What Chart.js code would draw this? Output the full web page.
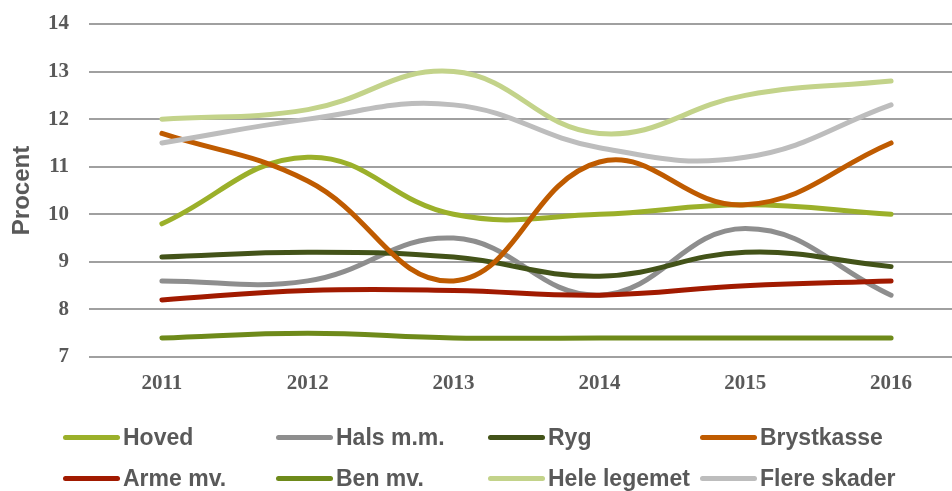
<!DOCTYPE html>
<html>
<head>
<meta charset="utf-8">
<script src="https://cdn.jsdelivr.net/npm/chart.js@4/dist/chart.umd.min.js"></script>
<style>
  html, body { margin: 0; padding: 0; background: #ffffff; overflow: hidden; width: 952px; height: 491px; }
  #wrap { position: relative; width: 952px; height: 491px; overflow: hidden; }
  canvas { position: absolute; left: 0; top: 0; }
  #legend { position: absolute; left: 0; top: 0; width: 952px; height: 491px; pointer-events: none; }
  .item { position: absolute; display: flex; align-items: center; font-family: "Liberation Sans", Arial, sans-serif; font-weight: bold; font-size: 23px; color: #595959; white-space: nowrap; }
  .sw { width: 57px; height: 5px; border-radius: 3px; margin-right: 3px; }
</style>
</head>
<body>
<div id="wrap">
  <canvas id="c" width="964" height="491"></canvas>
  <div id="legend"></div>
</div>
<script>
const years = ['2011', '2012', '2013', '2014', '2015', '2016'];
const seriesNames = ['Hoved', 'Hals m.m.', 'Ryg', 'Brystkasse', 'Arme mv.', 'Ben mv.', 'Hele legemet', 'Flere skader'];
const hoved       = [9.8, 11.2, 10.0, 10.0, 10.2, 10.0];
const halsMm      = [8.6, 8.6, 9.5, 8.3, 9.7, 8.3];
const ryg         = [9.1, 9.2, 9.1, 8.7, 9.2, 8.9];
const brystkasse  = [11.7, 10.7, 8.6, 11.1, 10.2, 11.5];
const armeMv      = [8.2, 8.4, 8.4, 8.3, 8.5, 8.6];
const benMv       = [7.4, 7.5, 7.4, 7.4, 7.4, 7.4];
const heleLegemet = [12.0, 12.2, 13.0, 11.7, 12.5, 12.8];
const flereSkader = [11.5, 12.0, 12.3, 11.4, 11.2, 12.3];
const yTicks = [7, 8, 9, 10, 11, 12, 13, 14];

const seriesValues = [hoved, halsMm, ryg, brystkasse, armeMv, benMv, heleLegemet, flereSkader];
const colors = ['#9BB02A', '#8E8E8E', '#435319', '#BF5B00', '#A11A00', '#6E8A1A', '#C3D38A', '#BDBDBD'];

const datasets = seriesNames.map((name, i) => ({
  label: name,
  data: seriesValues[i],
  borderColor: colors[i],
  backgroundColor: colors[i],
  borderWidth: 5,
  borderCapStyle: 'round',
  borderJoinStyle: 'round',
  pointRadius: 0,
  pointHoverRadius: 0,
  tension: 0.42,
  fill: false,
  clip: false,
  order: -i
}));

new Chart(document.getElementById('c'), {
  type: 'line',
  data: { labels: years, datasets },
  options: {
    responsive: false,
    animation: false,
    events: [],
    layout: { padding: { top: 24, right: 0, bottom: 0, left: 0 } },
    plugins: { legend: { display: false }, tooltip: { enabled: false } },
    scales: {
      x: {
        offset: true,
        grid: { display: false, drawTicks: false },
        border: { display: false },
        ticks: {
          padding: 14,
          color: '#595959',
          font: { family: '"Liberation Serif", "Times New Roman", serif', weight: 'bold', size: 21 }
        },
        afterFit: (axis) => { axis.height = 134; axis.paddingLeft = 0; axis.paddingRight = 0; }
      },
      y: {
        min: 7,
        max: 14,
        afterBuildTicks: (axis) => { axis.ticks = yTicks.map(v => ({ value: v })); },
        grid: { color: '#A0A0A0', lineWidth: 2, drawTicks: false },
        border: { display: false },
        ticks: {
          padding: 20,
          color: '#595959',
          font: { family: '"Liberation Serif", "Times New Roman", serif', weight: 'bold', size: 21 }
        },
        title: {
          display: true,
          text: 'Procent',
          color: '#595959',
          padding: { top: 8, bottom: 0 },
          font: { family: '"Liberation Sans", Arial, sans-serif', weight: 'bold', size: 24 }
        },
        afterFit: (axis) => { axis.width = 89; axis.paddingTop = 0; axis.paddingBottom = 0; }
      }
    }
  }
});

// HTML legend built from the datasets
const legend = document.getElementById('legend');
const colX = [63, 276, 488, 700];
const rowY = [437, 478];
seriesNames.forEach((name, i) => {
  const el = document.createElement('div');
  el.className = 'item';
  el.style.left = colX[i % 4] + 'px';
  el.style.top = (rowY[Math.floor(i / 4)] - 14) + 'px';
  el.style.height = '28px';
  const sw = document.createElement('span');
  sw.className = 'sw';
  sw.style.background = colors[i];
  const tx = document.createElement('span');
  tx.textContent = name;
  el.appendChild(sw);
  el.appendChild(tx);
  legend.appendChild(el);
});
</script>
</body>
</html>
